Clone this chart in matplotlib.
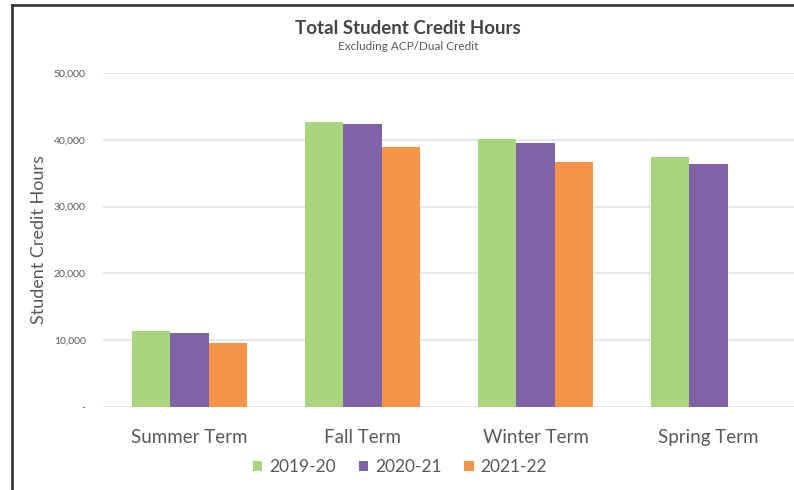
import matplotlib
matplotlib.use("Agg")
import matplotlib.pyplot as plt
import numpy as np
from matplotlib.lines import Line2D
from matplotlib.ticker import FuncFormatter

categories = ["Summer Term", "Fall Term", "Winter Term", "Spring Term"]
series_names = ["2019-20", "2020-21", "2021-22"]
values_2019_20 = [11400, 42700, 40100, 37400]
values_2020_21 = [11100, 42400, 39500, 36400]
values_2021_22 = [9600, 38900, 36700, np.nan]
y_ticks = [0, 10000, 20000, 30000, 40000, 50000]

colors = ["#A8D57E", "#8062A7", "#F6954A"]
text_gray = "#595959"

plt.rcParams['font.family'] = ['Lato', 'DejaVu Sans']

fig = plt.figure(figsize=(7.94, 4.90), dpi=100)
W, H = 794, 490
ax_left, ax_right, ax_bottom, ax_top = 103, 795, 407, 73
ax = fig.add_axes([ax_left / W, 1 - ax_bottom / H, (ax_right - ax_left) / W, (ax_bottom - ax_top) / H])

x = np.arange(len(categories))
bw = 0.222
for i, (vals, name, c) in enumerate(zip([values_2019_20, values_2020_21, values_2021_22], series_names, colors)):
    ax.bar(x + (i - 1) * bw, vals, width=bw, color=c, label=name, zorder=3)

ax.set_xlim(-0.5, len(categories) - 0.5)
ax.set_ylim(0, 50000)
ax.set_yticks(y_ticks)
ax.yaxis.set_major_formatter(FuncFormatter(lambda v, p: "-" if v == 0 else f"{int(v):,}"))
ax.grid(axis='y', color="#E3E3E3", linewidth=1.2, zorder=0)
for s in ax.spines.values():
    s.set_visible(False)
ax.tick_params(axis='y', length=0, labelsize=7.5, labelcolor=text_gray, pad=12.5)
ax.tick_params(axis='x', length=0, labelsize=13.5, labelcolor=text_gray, pad=16)
ax.set_xticks(x)
ax.set_xticklabels(categories)
ax.set_ylabel("Student Credit Hours", fontsize=13, color=text_gray, labelpad=5)

fig.text(408 / W, 1 - 28 / H, "Total Student Credit Hours", ha='center', va='center',
         fontsize=13.5, fontweight='bold', color="#454545")
fig.text(408 / W, 1 - 47 / H, "Excluding ACP/Dual Credit", ha='center', va='center',
         fontsize=8.5, color=text_gray)

leg = ax.legend(loc='center', bbox_to_anchor=(400 / W, 1 - 467 / H), bbox_transform=fig.transFigure,
                ncol=3, frameon=False, fontsize=12.5, handlelength=0.55, handleheight=0.55,
                handletextpad=0.4, columnspacing=1.3)
for t in leg.get_texts():
    t.set_color(text_gray)

fig.add_artist(Line2D([12 / W, 12 / W], [0, 1 - 5 / H], transform=fig.transFigure, color="#3A3A3A", linewidth=2))
fig.add_artist(Line2D([12 / W, 1], [1 - 5 / H, 1 - 5 / H], transform=fig.transFigure, color="#3A3A3A", linewidth=2))

fig.savefig("out.png", dpi=100)
